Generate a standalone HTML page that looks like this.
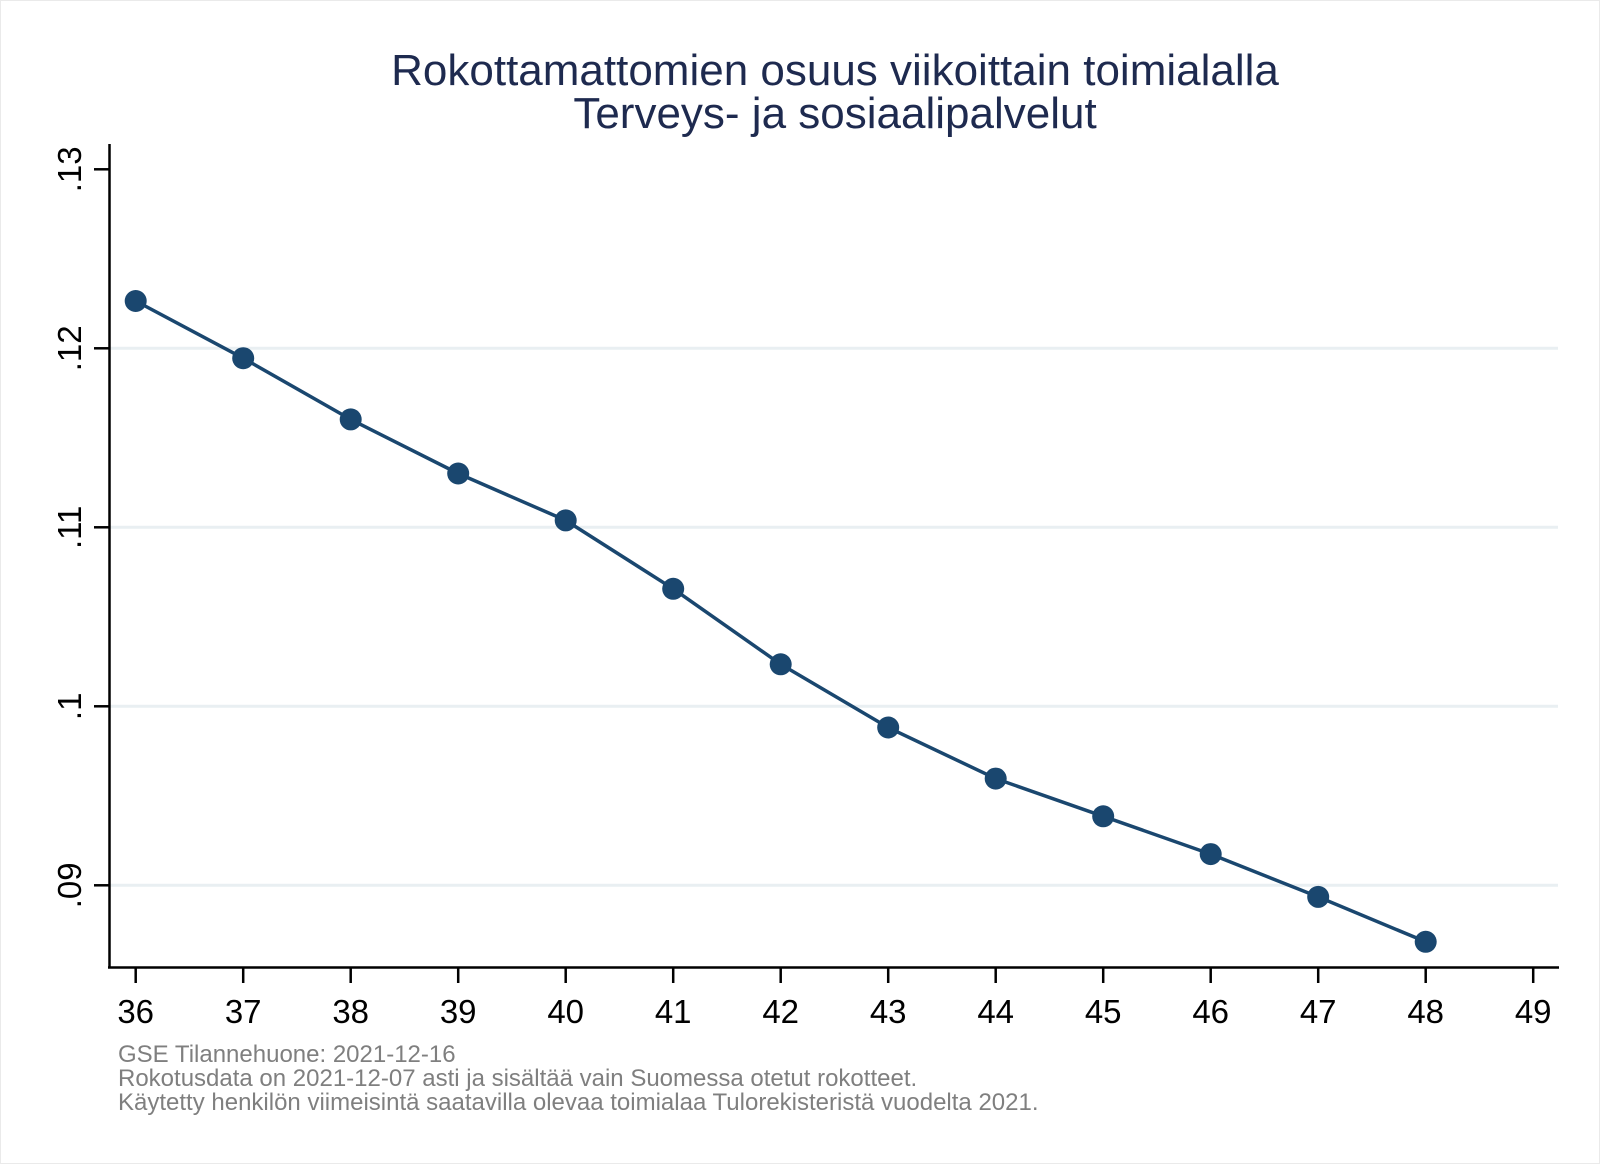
<!DOCTYPE html>
<html><head><meta charset="utf-8"><style>
html,body{margin:0;padding:0;background:#fff;}
svg{display:block;font-family:"Liberation Sans",Arial,sans-serif;}
</style></head><body>
<svg width="1600" height="1164" viewBox="0 0 1600 1164" xmlns="http://www.w3.org/2000/svg">
<rect x="0" y="0" width="1600" height="1164" fill="#fff"/>
<rect x="0.5" y="0.5" width="1599" height="1163" fill="none" stroke="#eaeaea"/>
<text x="835" y="85" font-size="44" fill="#1e2a4f" text-anchor="middle">Rokottamattomien osuus viikoittain toimialalla</text>
<text x="835" y="128" font-size="44" fill="#1e2a4f" text-anchor="middle">Terveys- ja sosiaalipalvelut</text>
<g stroke="#e9eff2" stroke-width="3">
<line x1="110" y1="348.3" x2="1558" y2="348.3"/>
<line x1="110" y1="527.3" x2="1558" y2="527.3"/>
<line x1="110" y1="706.3" x2="1558" y2="706.3"/>
<line x1="110" y1="885.3" x2="1558" y2="885.3"/>
</g>
<g stroke="#000" stroke-width="2.5">
<line x1="109.5" y1="144" x2="109.5" y2="968"/>
<line x1="108" y1="967.5" x2="1559" y2="967.5"/>
<line x1="94" y1="169.3" x2="109" y2="169.3"/>
<line x1="94" y1="348.3" x2="109" y2="348.3"/>
<line x1="94" y1="527.3" x2="109" y2="527.3"/>
<line x1="94" y1="706.3" x2="109" y2="706.3"/>
<line x1="94" y1="885.3" x2="109" y2="885.3"/>
</g>
<g stroke="#000" stroke-width="2.5">
<line x1="135.7" y1="968" x2="135.7" y2="983"/><line x1="243.2" y1="968" x2="243.2" y2="983"/>
<line x1="350.7" y1="968" x2="350.7" y2="983"/><line x1="458.2" y1="968" x2="458.2" y2="983"/>
<line x1="565.7" y1="968" x2="565.7" y2="983"/><line x1="673.2" y1="968" x2="673.2" y2="983"/>
<line x1="780.7" y1="968" x2="780.7" y2="983"/><line x1="888.2" y1="968" x2="888.2" y2="983"/>
<line x1="995.7" y1="968" x2="995.7" y2="983"/><line x1="1103.2" y1="968" x2="1103.2" y2="983"/>
<line x1="1210.7" y1="968" x2="1210.7" y2="983"/><line x1="1318.2" y1="968" x2="1318.2" y2="983"/>
<line x1="1425.7" y1="968" x2="1425.7" y2="983"/><line x1="1533.2" y1="968" x2="1533.2" y2="983"/>
</g>
<g font-size="33" fill="#000" text-anchor="middle">
<text x="135.7" y="1023">36</text><text x="243.2" y="1023">37</text><text x="350.7" y="1023">38</text>
<text x="458.2" y="1023">39</text><text x="565.7" y="1023">40</text><text x="673.2" y="1023">41</text>
<text x="780.7" y="1023">42</text><text x="888.2" y="1023">43</text><text x="995.7" y="1023">44</text>
<text x="1103.2" y="1023">45</text><text x="1210.7" y="1023">46</text><text x="1318.2" y="1023">47</text>
<text x="1425.7" y="1023">48</text><text x="1533.2" y="1023">49</text>
</g>
<g font-size="33" fill="#000" text-anchor="middle">
<text transform="translate(81,169.3) rotate(-90)">.13</text>
<text transform="translate(81,348.3) rotate(-90)">.12</text>
<text transform="translate(81,527.3) rotate(-90)">.11</text>
<text transform="translate(81,706.3) rotate(-90)">.1</text>
<text transform="translate(81,885.3) rotate(-90)">.09</text>
</g>
<polyline fill="none" stroke="#1a476f" stroke-width="3.5" stroke-linejoin="round" points="135.7,301 243.2,358.2 350.7,419.4 458.2,473.5 565.7,520.4 673.2,588.8 780.7,664.3 888.2,727.5 995.7,778.6 1103.2,816.3 1210.7,854.1 1318.2,896.9 1425.7,941.8"/>
<g fill="#1a476f">
<circle cx="135.7" cy="301" r="11"/><circle cx="243.2" cy="358.2" r="11"/><circle cx="350.7" cy="419.4" r="11"/>
<circle cx="458.2" cy="473.5" r="11"/><circle cx="565.7" cy="520.4" r="11"/><circle cx="673.2" cy="588.8" r="11"/>
<circle cx="780.7" cy="664.3" r="11"/><circle cx="888.2" cy="727.5" r="11"/><circle cx="995.7" cy="778.6" r="11"/>
<circle cx="1103.2" cy="816.3" r="11"/><circle cx="1210.7" cy="854.1" r="11"/><circle cx="1318.2" cy="896.9" r="11"/>
<circle cx="1425.7" cy="941.8" r="11"/>
</g>
<g font-size="24" fill="#7f7f7f">
<text x="118" y="1062">GSE Tilannehuone: 2021-12-16</text>
<text x="118" y="1086">Rokotusdata on 2021-12-07 asti ja sisältää vain Suomessa otetut rokotteet.</text>
<text x="118" y="1110">Käytetty henkilön viimeisintä saatavilla olevaa toimialaa Tulorekisteristä vuodelta 2021.</text>
</g>
</svg>
</body></html>
